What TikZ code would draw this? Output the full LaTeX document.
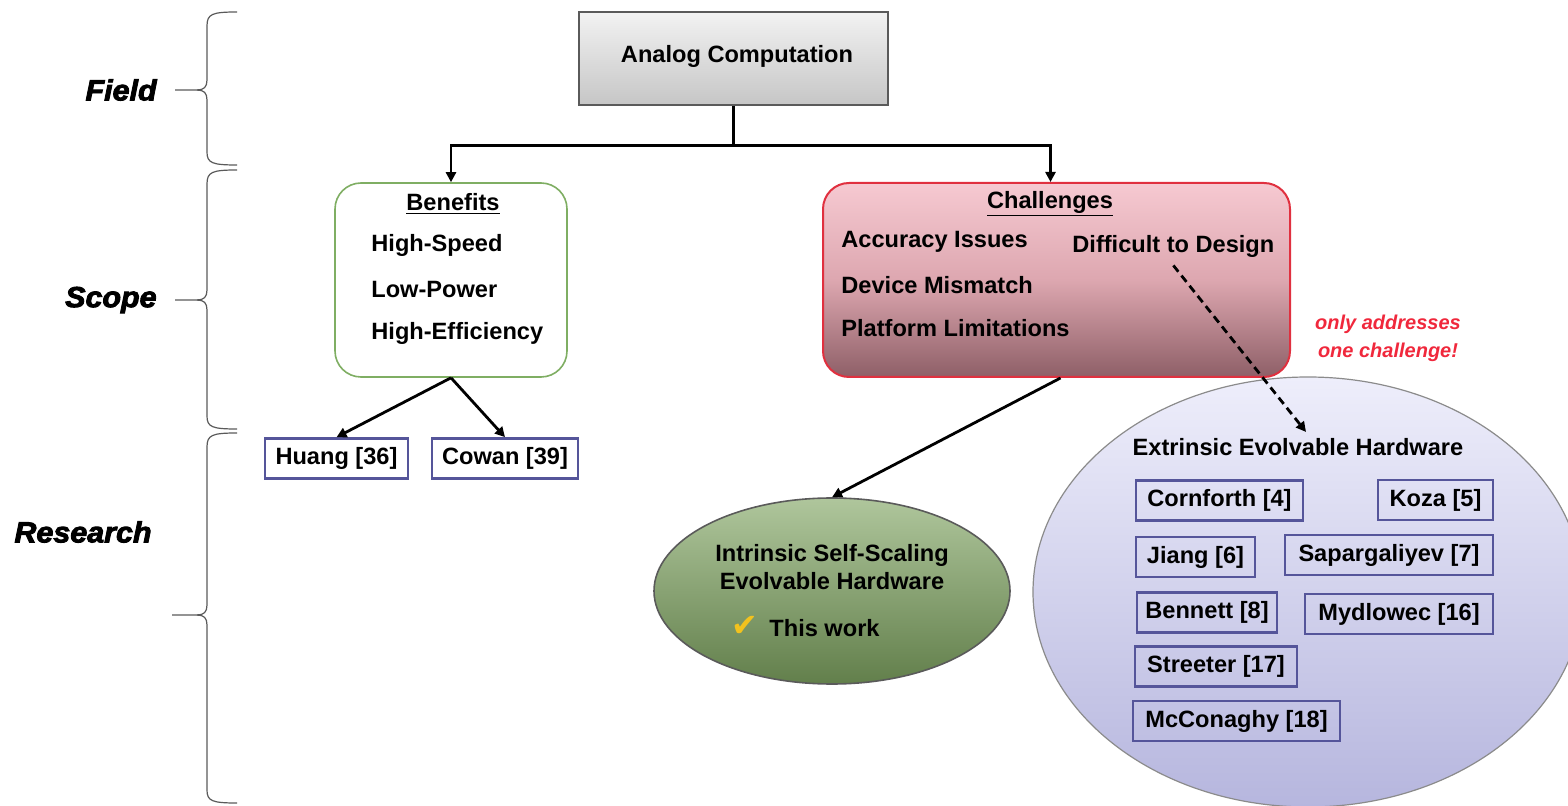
\documentclass[tikz,border=0pt]{standalone}
\usepackage{fontspec}
\setmainfont{Liberation Sans}
\newfontfamily\lblfont[BoldItalicFeatures={FakeBold=3,FakeStretch=1.05}]{Liberation Sans}
\newfontfamily\symfont{DejaVu Sans}
\usetikzlibrary{arrows.meta,shapes.geometric,calc}

\definecolor{refblue}{HTML}{55559A}
\definecolor{bracegray}{HTML}{5A5A5A}
\definecolor{bengreen}{HTML}{7FAE63}
\definecolor{chred}{HTML}{E0303F}
\definecolor{chtop}{HTML}{F6C9D1}
\definecolor{chmid}{HTML}{DDA7B0}
\definecolor{chbot}{HTML}{8E5F67}
\definecolor{grtop}{HTML}{AFC69C}
\definecolor{grbot}{HTML}{627F4B}
\definecolor{lvtop}{HTML}{EEEEFB}
\definecolor{lvbot}{HTML}{B6B6DE}
\definecolor{antop}{HTML}{F2F2F2}
\definecolor{anbot}{HTML}{C6C6C6}
\definecolor{warnred}{HTML}{F0283C}
\definecolor{checkgold}{HTML}{F2C21E}

\begin{document}
\begin{tikzpicture}[x=0.5pt,y=-0.5pt,
  lbl/.style={font=\lblfont\fontsize{14.5}{16}\selectfont\bfseries\itshape, anchor=east, inner sep=0},
  txt/.style={font=\fontsize{11.8}{14}\selectfont\bfseries, inner sep=0},
  refbox/.style={draw=refblue, line width=1.3pt, font=\fontsize{11.8}{14}\selectfont\bfseries,
    minimum height=20pt, inner sep=0},
  conn/.style={line width=1.4pt, -{Triangle[length=5pt,width=5pt]}},
  dconn/.style={line width=1.4pt, dash pattern=on 4pt off 2.5pt, -{Triangle[length=5pt,width=5pt]}},
  bracepath/.style={draw=bracegray, line width=0.6pt}
]
\useasboundingbox (0,0) rectangle (1568,806);
\clip (0,0) rectangle (1568,806);

% ---- level braces ----
\path[bracepath] (237,12) .. controls (212,12) and (207,14) .. (207,26) -- (207,80)
  .. controls (207,87) and (204,90) .. (197,90) -- (175,90);
\path[bracepath] (197,90) .. controls (204,90) and (207,93) .. (207,100) -- (207,152)
  .. controls (207,163) and (212,165) .. (237,165);
\path[bracepath] (237,170) .. controls (212,170) and (207,172) .. (207,184) -- (207,290)
  .. controls (207,297) and (204,300) .. (197,300) -- (175,300);
\path[bracepath] (197,300) .. controls (204,300) and (207,303) .. (207,310) -- (207,416)
  .. controls (207,427) and (212,429) .. (237,429);
\path[bracepath] (237,433) .. controls (212,433) and (207,435) .. (207,447) -- (207,605)
  .. controls (207,612) and (204,615) .. (197,615) -- (172,615);
\path[bracepath] (197,615) .. controls (204,615) and (207,618) .. (207,625) -- (207,790)
  .. controls (207,801) and (212,803) .. (237,803);

\node[lbl] (field) at (157,90) {Field};
\node[lbl] (scope) at (157,300) {Scope};
\node[lbl] (research) at (152,532) {Research};

% ---- field ----
\node[draw=bracegray, line width=0.8pt, top color=antop, bottom color=anbot,
  minimum width=154.5pt, minimum height=46.5pt, inner sep=0] (an) at (733.5,58.5) {};
\node[txt] (antext) at (737,56) {Analog Computation};

% ---- scope ----
\node[draw=bengreen, line width=0.8pt, fill=white, rounded corners=13pt,
  minimum width=116pt, minimum height=97pt, inner sep=0] (ben) at (451,280) {};
\node[txt] (bentitle) at (453,204) {\underline{Benefits}};
\node[txt, anchor=west] (b1) at (371,245) {High-Speed};
\node[txt, anchor=west] (b2) at (371,290) {Low-Power};
\node[txt, anchor=west] (b3) at (371,333) {High-Efficiency};

% ---- research (the large ellipse sits behind the challenges box) ----
\node[ellipse, draw=bracegray!70, line width=0.6pt, top color=lvtop, bottom color=lvbot,
  minimum width=275pt, minimum height=215pt, inner sep=0] (extr) at (1308,592) {};

\node[draw=chred, line width=1pt, top color=chtop, bottom color=chbot, middle color=chmid,
  rounded corners=13pt, minimum width=233.5pt, minimum height=97pt, inner sep=0] (ch) at (1056.5,280) {};
\node[txt] (chtitle) at (1050,204) {\underline{Challenges}};
\node[txt, anchor=west] (c1) at (841,242) {Accuracy Issues};
\node[txt, anchor=west] (c2) at (841,285) {Device Mismatch};
\node[txt, anchor=west] (c3) at (841,328) {Platform Limitations};
\node[txt, anchor=west] (c4) at (1072,246) {Difficult to Design};

\node[font=\fontsize{10}{14}\selectfont\bfseries\itshape, text=warnred, align=center, inner sep=0]
  (note) at (1388,338) {only addresses\\one challenge!};

\node[refbox, fill=white, minimum width=71.5pt] (hu) at (336.5,458.5) {Huang [36]};
\node[refbox, fill=white, minimum width=73pt] (co) at (505,458.5) {Cowan [39]};

\node[ellipse, draw=bracegray, line width=0.8pt, top color=grtop, bottom color=grbot,
  minimum width=178pt, minimum height=93pt, inner sep=0] (intr) at (832,591) {};
\node[txt, align=center, font=\fontsize{11.8}{14}\selectfont\bfseries] (intrtext) at (832,567)
  {Intrinsic Self-Scaling\\Evolvable Hardware};
\node[inner sep=0, font=\symfont\fontsize{16}{16}\selectfont, text=checkgold] (chk) at (745,626) {✔};
\node[txt, anchor=west] (thiswork) at (769,628) {This work};

\node[txt] (extrtitle) at (1298,447) {Extrinsic Evolvable Hardware};

\node[refbox, minimum width=83.5pt] (r4) at (1219.5,500.5) {Cornforth [4]};
\node[refbox, minimum width=57.5pt] (r5) at (1435.5,500) {Koza [5]};
\node[refbox, minimum width=59.5pt] (r6) at (1195.5,557) {Jiang [6]};
\node[refbox, minimum width=104pt] (r7) at (1389,555) {Sapargaliyev [7]};
\node[refbox, minimum width=70pt] (r8) at (1207,612.5) {Bennett [8]};
\node[refbox, minimum width=94pt] (r16) at (1399,614) {Mydlowec [16]};
\node[refbox, minimum width=81pt] (r17) at (1216,666.5) {Streeter [17]};
\node[refbox, minimum width=103.5pt] (r18) at (1236.5,721) {McConaghy [18]};

% ---- connectors ----
\coordinate (split) at ($(an.south)+(0,40)$);
\draw[line width=1.4pt] (an.south) -- (split);
\draw[conn] (split) -| (ben.north);
\draw[conn] (split) -| ($(ch.north)+(-6,0)$);
\draw[conn] (ben.south) -- (hu.north);
\draw[conn] (ben.south) -- (co.north);
\draw[conn] ($(ch.south)+(4,0)$) -- (intr.north);
\draw[dconn] ($(c4.south)+(0,8)$) -- ($(extrtitle.north)+(8,-6)$);

\end{tikzpicture}
\end{document}
